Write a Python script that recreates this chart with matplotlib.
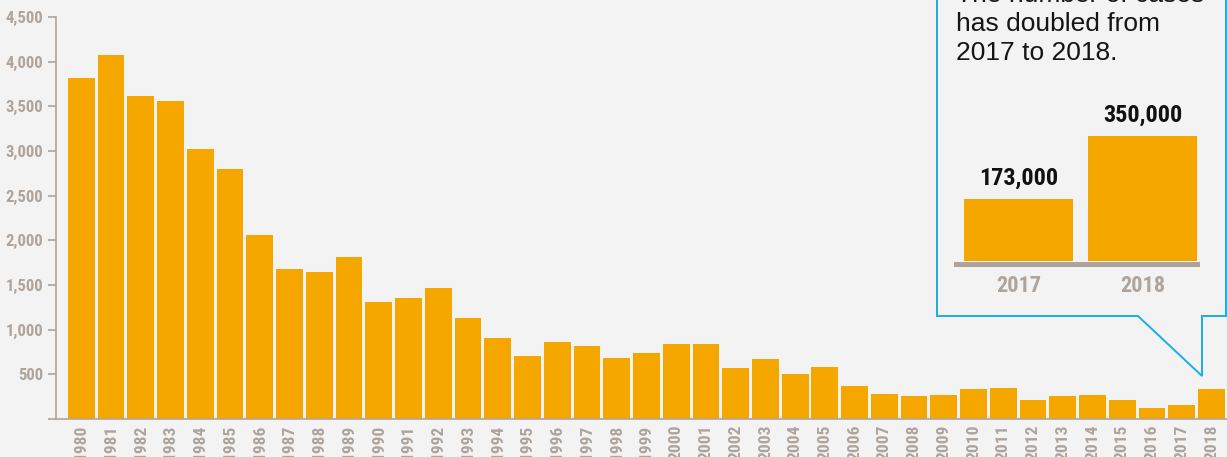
import matplotlib
matplotlib.use('Agg')
import matplotlib.pyplot as plt
from matplotlib import font_manager
from matplotlib.patches import Polygon

# data
years = [str(y) for y in range(1980, 2019)]
cases = [3820, 4080, 3620, 3560, 3020, 2800, 2060, 1680, 1645, 1815,
         1310, 1355, 1465, 1130, 905, 705, 860, 815, 685, 740,
         840, 840, 570, 670, 505, 580, 370, 280, 255, 265,
         335, 345, 215, 255, 265, 215, 125, 155, 335]
y_ticks = [0, 500, 1000, 1500, 2000, 2500, 3000, 3500, 4000, 4500]

inset_years = ['2017', '2018']
inset_cases = [173000, 350000]
inset_labels = ['173,000', '350,000']
note_lines = ['The number of cases', 'has doubled from', '2017 to 2018.']

BG = '#f3f3f3'
ORANGE = '#f5a700'
GREY = '#afa49b'
CYAN = '#1aaee6'
W, H = 1227, 457


def pick(names):
    have = {f.name for f in font_manager.fontManager.ttflist}
    for n in names:
        if n in have:
            return n
    return 'DejaVu Sans'


COND = pick(['Liberation Sans Narrow', 'Roboto Condensed', 'DejaVu Sans Condensed',
             'Open Sans Condensed', 'Liberation Sans'])
SANS = pick(['Liberation Sans', 'Roboto', 'DejaVu Sans'])


def px(x, y):
    # figure pixel coords (origin top-left) -> figure fraction
    return x / W, 1 - y / H


fig = plt.figure(figsize=(W / 100, H / 100), dpi=100)
fig.patch.set_facecolor(BG)

# main chart
ax = fig.add_axes([56 / W, 1 - 419 / H, (W - 56) / W, 402 / H])
ax.set_facecolor(BG)
x = list(range(len(years)))
ax.bar(x, cases, width=0.9, color=ORANGE)
ax.set_xlim(-0.85, 38.52)
ax.set_ylim(0, 4500)

ax.set_yticks(y_ticks)
ax.set_yticklabels(['' if v == 0 else f'{v:,}' for v in y_ticks],
                   fontfamily=COND, fontweight='bold', fontsize=12)
ax.tick_params(axis='y', length=5.8, width=1.2, color=GREY, labelcolor=GREY, pad=3.6)

ax.set_xticks(x)
ax.set_xticklabels(years, rotation=90, fontfamily=COND, fontweight='bold', fontsize=12.5)
ax.tick_params(axis='x', length=0, labelcolor=GREY, pad=4)

for s in ['top', 'right']:
    ax.spines[s].set_visible(False)
for s in ['left', 'bottom']:
    ax.spines[s].set_color(GREY)
    ax.spines[s].set_linewidth(1.2)

# callout box
box = [(937, -10), (937, 316), (1138, 316), (1202, 376), (1202, 316),
       (1226, 316), (1226, -10)]
fig.add_artist(Polygon([px(a, b) for a, b in box], closed=True, transform=fig.transFigure,
                       facecolor=BG, edgecolor=CYAN, linewidth=1.4, zorder=1))

for line, base in zip(note_lines, [2, 31, 60]):
    fig.text(*px(956, base), line, ha='left', va='baseline', fontsize=19,
             fontfamily=SANS, color='#151515', zorder=4)

# inset chart
iax = fig.add_axes([956 / W, 1 - 261 / H, 241 / W, 125 / H], zorder=3)
iax.patch.set_visible(False)
for s in ['top', 'right', 'left']:
    iax.spines[s].set_visible(False)
iax.spines['bottom'].set_position(('outward', 1.8))
iax.spines['bottom'].set_color(GREY)
iax.spines['bottom'].set_linewidth(3.6)

iax.bar([0, 1], inset_cases, width=0.88, color=ORANGE)
iax.set_xlim(-0.505, 1.44)
iax.set_ylim(0, 350000)
for i, (v, lbl) in enumerate(zip(inset_cases, inset_labels)):
    iax.annotate(lbl, (i, v), xytext=(0, 10.5), textcoords='offset points',
                 ha='center', va='baseline', fontsize=17.5, fontweight='bold',
                 fontfamily=COND, color='#111111', annotation_clip=False)
iax.set_yticks([])
iax.set_xticks([0, 1])
iax.set_xticklabels(inset_years, fontfamily=COND, fontweight='bold', fontsize=16)
iax.tick_params(axis='x', length=0, labelcolor=GREY, pad=8)

fig.savefig('out.png', dpi=100, facecolor=BG)
